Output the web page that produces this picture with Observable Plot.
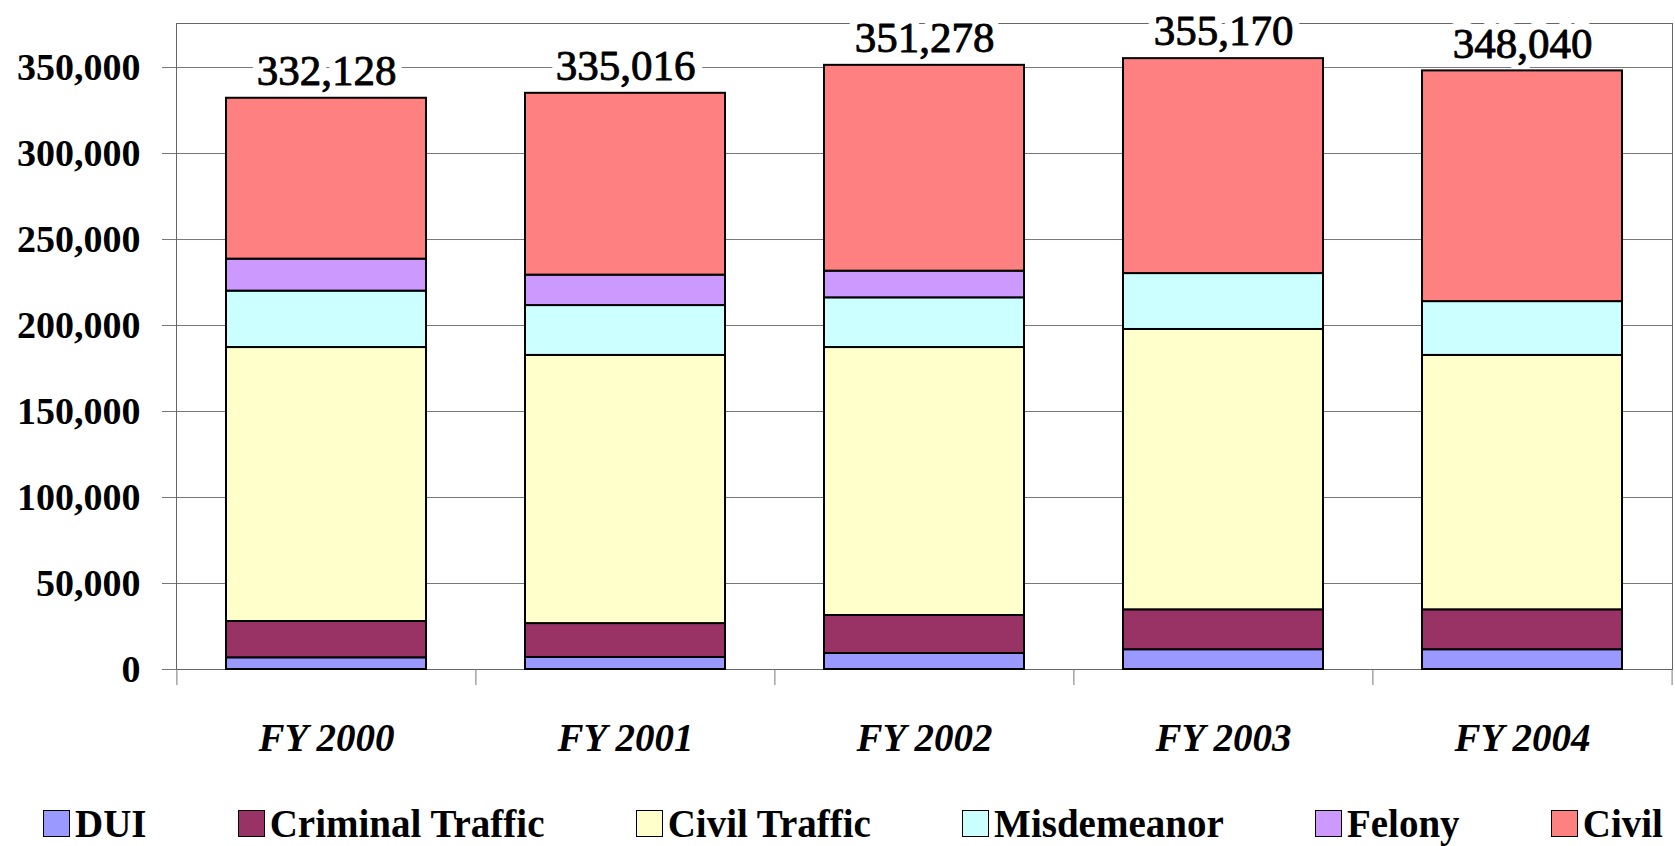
<!DOCTYPE html>
<html><head><meta charset="utf-8">
<script src="https://cdn.jsdelivr.net/npm/d3@7"></script>
<script src="https://cdn.jsdelivr.net/npm/@observablehq/plot@0.6"></script>
<style>
html,body{margin:0;padding:0;background:#fff;}
#chart svg{display:block;}
.legend{display:flex;justify-content:space-between;align-items:center;height:46px;padding:0 12px 0 43px;font-family:"Liberation Serif",serif;font-weight:bold;font-size:39px;color:#000;}
.legend .item{display:flex;align-items:center;white-space:nowrap;}
.legend .sw{width:27px;height:27px;border:1.5px solid #000;margin-right:5px;box-sizing:border-box;}
</style></head><body>
<div id="chart"></div>
<div class="legend" id="legend"></div>
<script>
const years = ["FY 2000", "FY 2001", "FY 2002", "FY 2003", "FY 2004"];
const seriesNames = ["DUI", "Criminal Traffic", "Civil Traffic", "Misdemeanor", "Felony", "Civil"];
const seriesColors = ["#9999FF", "#993366", "#FFFFCC", "#CCFFFF", "#CC99FF", "#FF8080"];
const dui             = [6800, 7000, 9300, 11500, 11500];
const criminalTraffic = [21100, 19700, 22100, 23200, 23200];
const civilTraffic    = [159300, 155900, 155800, 163000, 147900];
const misdemeanor     = [32800, 29000, 28900, 32500, 31300];
const felony          = [18600, 17700, 15500, 0, 0];
const civil           = [93528, 105716, 119678, 124970, 134140];
const totals          = [332128, 335016, 351278, 355170, 348040];
const yTicks = [0, 50000, 100000, 150000, 200000, 250000, 300000, 350000];
const yMax = 375600;

const W = 1675, H = 800, ml = 176, mr = 3, mt = 23, mb = 131;
const step = (W - ml - mr) / years.length;
const seriesValues = [dui, criminalTraffic, civilTraffic, misdemeanor, felony, civil];
const rows = [];
seriesNames.forEach((s, k) => years.forEach((y, i) => {
  if (seriesValues[k][i] > 0) rows.push({year: y, series: s, value: seriesValues[k][i]});
}));
const totalsData = years.map((y, i) => ({year: y, total: totals[i]}));
const fmt = d3.format(",");
const grid = "#777";
const labelOpts = {x: "year", y: "total", text: d => fmt(d.total), dy: -27, fontSize: 43};

const chart = Plot.plot({
  width: W, height: H,
  marginLeft: ml, marginRight: mr, marginTop: mt, marginBottom: mb,
  style: {fontFamily: "'Liberation Serif', serif", background: "#fff", overflow: "visible"},
  x: {domain: years, paddingInner: 0.33, paddingOuter: 0.165},
  y: {domain: [0, yMax]},
  color: {domain: seriesNames, range: seriesColors},
  marks: [
    Plot.gridY(yTicks, {stroke: grid, strokeOpacity: 1}),
    Plot.frame({stroke: "#666"}),
    Plot.text(totalsData, {...labelOpts, fill: "#fff", stroke: "#fff", strokeWidth: 16, strokeLinejoin: "round"}),
    Plot.barY(rows, {x: "year", y: "value", fill: "series", stroke: "#000", strokeWidth: 2}),
    Plot.ruleX(years, {x: d => d, dx: -step / 2, y1: 0, y2: 0, insetBottom: -16, stroke: grid}),
    Plot.ruleX([years[years.length - 1]], {x: d => d, dx: step / 2, y1: 0, y2: 0, insetBottom: -16, stroke: grid}),
    Plot.text(totalsData, {...labelOpts, fill: "#000", stroke: "#000", strokeWidth: 0.9}),
    Plot.axisY(yTicks, {tickFormat: fmt, tickSize: 14, tickPadding: 22, fontSize: 38, fontWeight: "bold",
      stroke: grid, fill: "#000", label: null}),
    Plot.axisX({tickSize: 0, tickPadding: 54, fontSize: 39, fontWeight: "bold", fontStyle: "italic",
      fill: "#000", label: null})
  ]
});
document.getElementById("chart").appendChild(chart);

const legend = document.getElementById("legend");
seriesNames.forEach((s, k) => {
  const item = document.createElement("div");
  item.className = "item";
  const sw = document.createElement("span");
  sw.className = "sw";
  sw.style.background = seriesColors[k];
  const t = document.createElement("span");
  t.textContent = s;
  item.appendChild(sw);
  item.appendChild(t);
  legend.appendChild(item);
});
</script>
</body></html>
